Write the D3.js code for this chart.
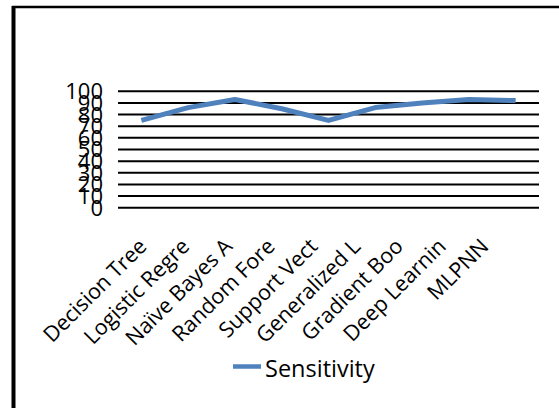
<!DOCTYPE html>
<html>
<head>
<meta charset="utf-8">
<script src="https://cdn.jsdelivr.net/npm/d3@7"></script>
<style>
  body { margin: 0; background: #fff; }
  svg text { font-family: "Open Sans", sans-serif; fill: #000; }
</style>
</head>
<body>
<svg id="chart" width="559" height="408"></svg>
<script>
// chart data
const categories = ["Decision Tree", "Logistic Regre", "Naïve Bayes A", "Random Fore",
  "Support Vect", "Generalized L", "Gradient Boo", "Deep Learnin", "MLPNN"];
const sensitivity = [75, 86, 93, 85, 75, 86, 90, 93, 92];
const yTicks = [0, 10, 20, 30, 40, 50, 60, 70, 80, 90, 100];
const seriesName = "Sensitivity";

const svg = d3.select("svg#chart");

// frame (top and left edges only are visible)
svg.append("line").attr("x1", 12).attr("x2", 559).attr("y1", 7).attr("y2", 7)
  .attr("stroke", "#000").attr("stroke-width", 2.5);
svg.append("line").attr("x1", 13.5).attr("x2", 13.5).attr("y1", 6).attr("y2", 408)
  .attr("stroke", "#000").attr("stroke-width", 4);

const x = d3.scaleBand().domain(categories).range([118, 539]);
const y = d3.scaleLinear().domain([0, 100]).range([207.7, 91.3]);
// labels sit a bit tighter than the ticks
const xLabel = d3.scalePoint().domain(categories).range([148, 490]);

// gridlines
svg.append("g").selectAll("line")
  .data(yTicks)
  .join("line")
  .attr("x1", 118).attr("x2", 539)
  .attr("y1", d => y(d)).attr("y2", d => y(d))
  .attr("stroke", "#000").attr("stroke-width", 2);

// y labels
svg.append("g").selectAll("text")
  .data(yTicks)
  .join("text")
  .attr("x", 103)
  .attr("y", d => y(d))
  .attr("dy", "0.36em")
  .attr("text-anchor", "end")
  .attr("font-size", 22)
  .text(d => d);

// x labels, rotated
svg.append("g").selectAll("text")
  .data(categories)
  .join("text")
  .attr("text-anchor", "end")
  .attr("font-size", 21.5)
  .attr("transform", d => `translate(${xLabel(d)},${y(0) + 40}) rotate(-45)`)
  .text(d => d);

// line
const line = d3.line()
  .x((d, i) => x(categories[i]) + x.bandwidth() / 2)
  .y(d => y(d));

svg.append("path")
  .datum(sensitivity)
  .attr("d", line)
  .attr("fill", "none")
  .attr("stroke", "#4f81bd")
  .attr("stroke-width", 5)
  .attr("stroke-linejoin", "round");

// legend
svg.append("line").attr("x1", 233).attr("x2", 261).attr("y1", 366.5).attr("y2", 366.5)
  .attr("stroke", "#4f81bd").attr("stroke-width", 4.5);
svg.append("text").attr("x", 265).attr("y", 376.5)
  .attr("font-size", 23.5)
  .text(seriesName);
</script>
</body>
</html>
